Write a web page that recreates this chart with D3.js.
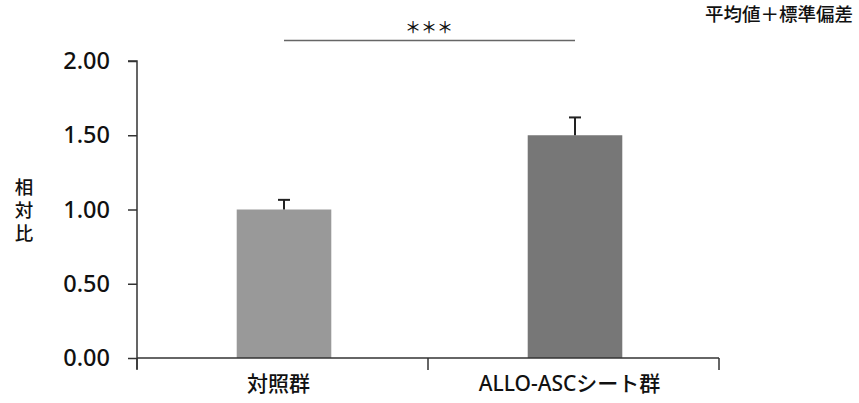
<!DOCTYPE html>
<html>
<head>
<meta charset="utf-8">
<script src="https://cdn.jsdelivr.net/npm/d3@7"></script>
<style>
    body { margin: 0; background: #fff; }
    svg { display: block; }
    text { font-family: "Noto Sans", "Noto Sans CJK JP", sans-serif; }
</style>
</head>
<body>
<svg width="859" height="403"></svg>
<script>
    var categories = ["対照群", "ALLO-ASCシート群"];
    var means = [1.00, 1.50];
    var sds = [0.065, 0.12];
    var barColors = ["#999999", "#777777"];
    var yTicks = [0, 0.5, 1.0, 1.5, 2.0];

    var svg = d3.select("svg"),
        margin = {top: 61, right: 140, bottom: 45, left: 137},
        width = 859 - margin.left - margin.right,
        height = 403 - margin.top - margin.bottom,
        g = svg.append("g").attr("transform", "translate(" + margin.left + "," + margin.top + ")");

    var x = d3.scaleBand()
        .domain(categories)
        .range([0, width])
        .padding(0);

    var y = d3.scaleLinear()
        .domain([0, 2])
        .range([height, 0]);

    var barW = x.bandwidth() * 0.325;

    // bars
    g.selectAll(".bar")
        .data(categories)
        .enter().append("rect")
        .attr("class", "bar")
        .attr("x", function (d) { return x(d) + x.bandwidth() / 2 - barW / 2 + 1.5; })
        .attr("y", function (d, i) { return y(means[i]); })
        .attr("width", barW)
        .attr("height", function (d, i) { return y(0) - y(means[i]); })
        .attr("fill", function (d, i) { return barColors[i]; });

    // error bars (upper only)
    var err = g.selectAll(".err")
        .data(categories)
        .enter().append("g")
        .attr("class", "err")
        .attr("stroke", "#222")
        .attr("stroke-width", 2);

    err.append("line")
        .attr("x1", function (d) { return x(d) + x.bandwidth() / 2 + 1.5; })
        .attr("x2", function (d) { return x(d) + x.bandwidth() / 2 + 1.5; })
        .attr("y1", function (d, i) { return y(means[i]); })
        .attr("y2", function (d, i) { return y(means[i] + sds[i]); });

    err.append("line")
        .attr("x1", function (d) { return x(d) + x.bandwidth() / 2 + 1.5 - 6; })
        .attr("x2", function (d) { return x(d) + x.bandwidth() / 2 + 1.5 + 6; })
        .attr("y1", function (d, i) { return y(means[i] + sds[i]); })
        .attr("y2", function (d, i) { return y(means[i] + sds[i]); });

    // y axis
    var yAxis = g.append("g")
        .call(d3.axisLeft(y).tickValues(yTicks).tickFormat(d3.format(".2f")).tickSize(9).tickPadding(18))
        .attr("font-family", null);
    yAxis.select(".domain").attr("stroke", "#333").attr("stroke-width", 1.5).attr("d", "M0," + (height + 11) + "V0H-9");
    yAxis.selectAll(".tick line").attr("stroke", "#333").attr("stroke-width", 1.5);
    yAxis.selectAll("text")
        .attr("fill", "#111")
        .attr("font-size", "23.5px")
        .attr("font-weight", 500)
        .attr("dy", "0.32em");

    // x axis with boundary ticks
    var xAxis = g.append("g")
        .attr("transform", "translate(0," + height + ")");
    xAxis.append("line")
        .attr("x1", 0).attr("x2", width)
        .attr("stroke", "#333").attr("stroke-width", 1.5);
    var bounds = [0].concat(categories.map(function (d) { return x(d) + x.bandwidth(); }));
    xAxis.selectAll(".bnd")
        .data(bounds)
        .enter().append("line")
        .attr("x1", function (d) { return d; })
        .attr("x2", function (d) { return d; })
        .attr("y1", 0).attr("y2", 12)
        .attr("stroke", "#333").attr("stroke-width", 1.5);
    xAxis.selectAll(".cat")
        .data(categories)
        .enter().append("text")
        .attr("x", function (d) { return x(d) + x.bandwidth() / 2 - 4; })
        .attr("y", 33)
        .attr("text-anchor", "middle")
        .attr("font-size", "21px")
        .attr("font-weight", 500)
        .attr("fill", "#111")
        .text(function (d) { return d; });

    // y label, stacked vertically
    var yLabel = svg.append("text")
        .attr("text-anchor", "middle")
        .attr("font-size", "18.5px")
        .attr("font-weight", 500)
        .attr("fill", "#111");
    "相対比".split("").forEach(function (c, i) {
        yLabel.append("tspan").attr("x", 24).attr("y", 194 + i * 23).text(c);
    });

    // significance bracket
    svg.append("line")
        .attr("x1", margin.left + x(categories[0]) + x.bandwidth() / 2 + 1.5)
        .attr("x2", margin.left + x(categories[1]) + x.bandwidth() / 2 + 1.5)
        .attr("y1", 40.5).attr("y2", 40.5)
        .attr("stroke", "#666").attr("stroke-width", 1.5);
    svg.append("text")
        .attr("x", margin.left + x.range()[1] / 2 + 1)
        .attr("y", 33)
        .attr("text-anchor", "middle")
        .attr("font-size", "16px")
        .style("font-family", "'Noto Sans CJK JP'")
        .attr("font-weight", 500)
        .attr("fill", "#111")
        .text("＊＊＊");

    svg.append("text")
        .attr("x", 853)
        .attr("y", 21)
        .attr("text-anchor", "end")
        .attr("font-size", "18.5px")
        .attr("font-weight", 500)
        .attr("fill", "#111")
        .text("平均値＋標準偏差");
</script>
</body>
</html>
